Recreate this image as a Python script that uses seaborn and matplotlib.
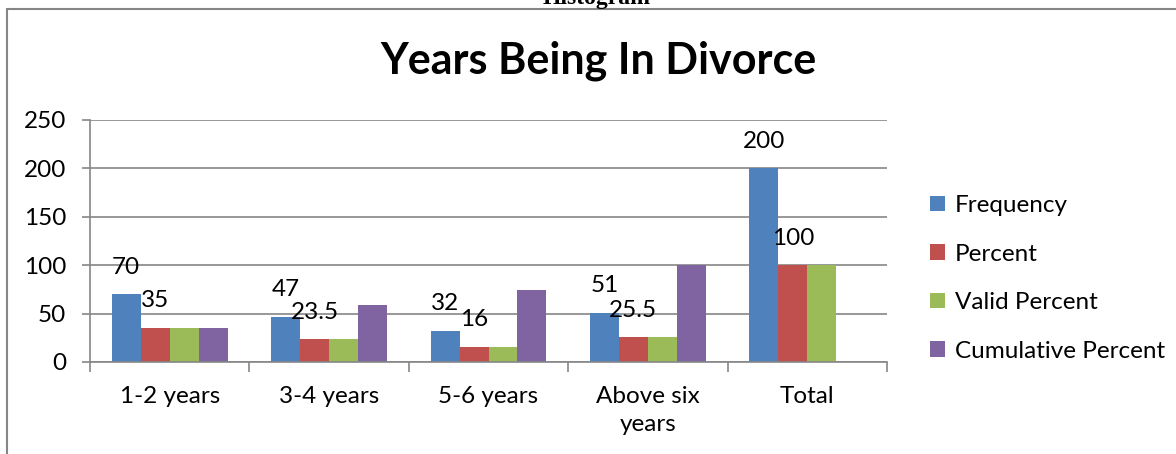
import numpy as np
import pandas as pd
import seaborn as sns
import matplotlib.pyplot as plt
from matplotlib.lines import Line2D

# Data
categories = ['1-2 years', '3-4 years', '5-6 years', 'Above six\nyears', 'Total']
frequency = [70, 47, 32, 51, 200]
percent = [35, 23.5, 16, 25.5, 100]
valid_percent = [35, 23.5, 16, 25.5, 100]
cumulative_percent = [35, 58.5, 74.5, 100, np.nan]

series_names = ['Frequency', 'Percent', 'Valid Percent', 'Cumulative Percent']
colors = ['#4F81BD', '#C0504D', '#9BBB59', '#8064A2']

df = pd.DataFrame({
    'Category': categories * 4,
    'Series': np.repeat(series_names, len(categories)),
    'Value': frequency + percent + valid_percent + cumulative_percent,
})

sns.set_style('white')
plt.rcParams['font.family'] = ['Lato', 'DejaVu Sans']
plt.rcParams['text.color'] = 'black'
plt.rcParams['xtick.labelcolor'] = 'black'
plt.rcParams['ytick.labelcolor'] = 'black'
fs = 17.5

fig = plt.figure(figsize=(11.76, 4.54), dpi=100)
ax = fig.add_axes([90 / 1176, 1 - 362 / 454, (887 - 90) / 1176, (362 - 120) / 454])

sns.barplot(data=df, x='Category', y='Value', hue='Series', hue_order=series_names,
            order=categories, palette=colors, width=0.727, gap=0, saturation=1,
            edgecolor='none', linewidth=0, ax=ax)

# Data labels only on Frequency and Percent
for cont in ax.containers[:2]:
    ax.bar_label(cont, fmt='%g', padding=12, fontsize=fs, color='black')

ax.set_ylim(0, 250)
ax.set_xlim(-0.5, len(categories) - 0.5)
ax.set_yticks(range(0, 251, 50))
ax.yaxis.grid(True, color='#868686', linewidth=1.2)
ax.set_axisbelow(True)
ax.set_xlabel('')
ax.set_ylabel('')

for side in ['top', 'right']:
    ax.spines[side].set_visible(False)
for side in ['left', 'bottom']:
    ax.spines[side].set_color('#868686')
    ax.spines[side].set_linewidth(1.2)

ax.tick_params(axis='y', length=6, width=1.2, color='#868686', pad=11, labelsize=fs, left=True)
ax.tick_params(axis='x', which='major', length=0, pad=17, labelsize=fs)
ax.set_xticks(np.arange(-0.5, len(categories)), minor=True)
ax.tick_params(axis='x', which='minor', length=7, width=1.2, color='#868686', bottom=True)
for lbl in ax.get_xticklabels():
    lbl.set_linespacing(1.45)
    lbl.set_verticalalignment('top')

ax.legend(loc='center left', bbox_to_anchor=(1.027, 0.345), frameon=False, fontsize=fs,
          handlelength=0.6, handleheight=0.6, handletextpad=0.4, labelspacing=1.13)

fig.suptitle('Years Being In Divorce', x=598 / 1176, y=1 - 61 / 454, va='center',
             fontsize=31, fontweight='bold', color='black')

# clipped heading above the chart and chart border
fig.text(597 / 1176, 1 - 4 / 454, 'Histogram', ha='center', va='baseline',
         family='Liberation Serif', fontsize=17, fontweight='bold')
fig.add_artist(Line2D([7 / 1176, 1], [1 - 9 / 454, 1 - 9 / 454], color='#868686', linewidth=1.5))
fig.add_artist(Line2D([7 / 1176, 7 / 1176], [0, 1 - 9 / 454], color='#868686', linewidth=1.5))

fig.savefig('out.png', dpi=100)
